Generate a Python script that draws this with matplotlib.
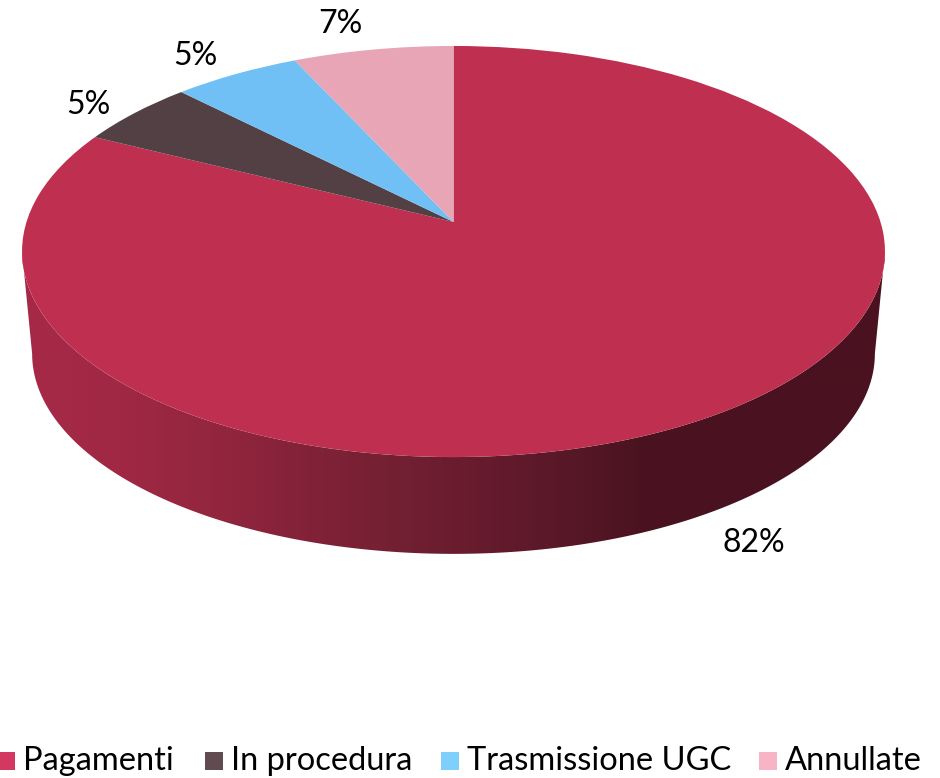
#!/usr/bin/env python
# coding: utf-8

import numpy as np
import matplotlib
matplotlib.use('Agg')
import matplotlib.pyplot as plt
from matplotlib.colors import to_rgb
from matplotlib.patches import Polygon, Rectangle
from matplotlib.transforms import Transform

categories = ['Pagamenti', 'In procedura', 'Trasmissione UGC', 'Annullate']
values = [82.4, 5.2, 5.5, 6.9]
pct_labels = ['82%', '5%', '5%', '7%']

top_colors = ['#BE2F50', '#524044', '#71C0F5', '#E7A5B6']
legend_colors = ['#D4375F', '#5F4B50', '#7FCFFD', '#F8B4C4']

# posizioni in pixel (centro, linea di base)
pct_pos = [(754, 552), (88, 114), (195, 65), (340, 33)]
legend_box_x = [-3, 205, 441, 759]
legend_text_x = [23, 231, 467, 785]

# gradiente del bordo laterale
wall_x = [25, 120, 210, 300, 390, 470, 560, 640, 885]
wall_col = ['#A62A48', '#A02844', '#94263F', '#832239', '#742033', '#681C2E', '#591828', '#4B1320', '#4A1220']

K = 0.1436  # prospettiva


class Persp(Transform):
    # cerchio unitario -> ellisse in prospettiva
    input_dims = 2
    output_dims = 2
    is_separable = False
    has_inverse = False

    def __init__(self, cx, cy, a, b):
        super().__init__()
        self.cx, self.cy, self.a, self.b = cx, cy, a, b

    def transform_non_affine(self, xy):
        xy = np.asarray(xy, dtype=float)
        w = 1 + K * xy[:, 1]
        return np.column_stack([self.cx + self.a * xy[:, 0] / w,
                                self.cy - self.b * xy[:, 1] / w])


top = Persp(453.5, 222, 427, 201.3)
bottom = Persp(453.5, 325, 417, 196)

fig = plt.figure(figsize=(9.4, 7.78), dpi=100)
ax = fig.add_axes([0, 0, 1, 1])

wedges, _ = ax.pie(values, colors=top_colors, startangle=90, counterclock=False,
                   wedgeprops={'linewidth': 0})

for w in wedges:
    w.set_transform(top + ax.transData)
    w.set_zorder(3)

# bordo laterale: sagoma tra le due ellissi, riempita col gradiente
ang = np.linspace(np.pi + np.arcsin(K), 2 * np.pi - np.arcsin(K), 300)
ring = np.column_stack([np.cos(ang), np.sin(ang)])
outline = np.vstack([top.transform(ring), bottom.transform(ring)[::-1]])

px = np.arange(940) + 0.5
grad = np.column_stack([np.interp(px, wall_x, [to_rgb(c)[j] for c in wall_col]) for j in range(3)])
img = ax.imshow(grad[np.newaxis, :, :], extent=(0, 940, 570, 230), aspect='auto',
                interpolation='bilinear', zorder=2)
wall = Polygon(outline, closed=True, transform=ax.transData, facecolor='none', edgecolor='none')
ax.add_patch(wall)
img.set_clip_path(wall)

ax.set_aspect('auto')
ax.set_xlim(0, 940)
ax.set_ylim(778, 0)
ax.axis('off')

font = 'Lato'
for lab, (x, y) in zip(pct_labels, pct_pos):
    ax.text(x, y, lab, fontsize=23, family=font, color='black', ha='center', va='baseline', zorder=5)

for name, col, bx, tx in zip(categories, legend_colors, legend_box_x, legend_text_x):
    ax.add_patch(Rectangle((bx, 752), 18, 18, facecolor=col, edgecolor='none', zorder=5))
    ax.text(tx, 770, name, fontsize=23.5, family=font, color='black', ha='left', va='baseline', zorder=5)

fig.savefig('out.png', dpi=100)
